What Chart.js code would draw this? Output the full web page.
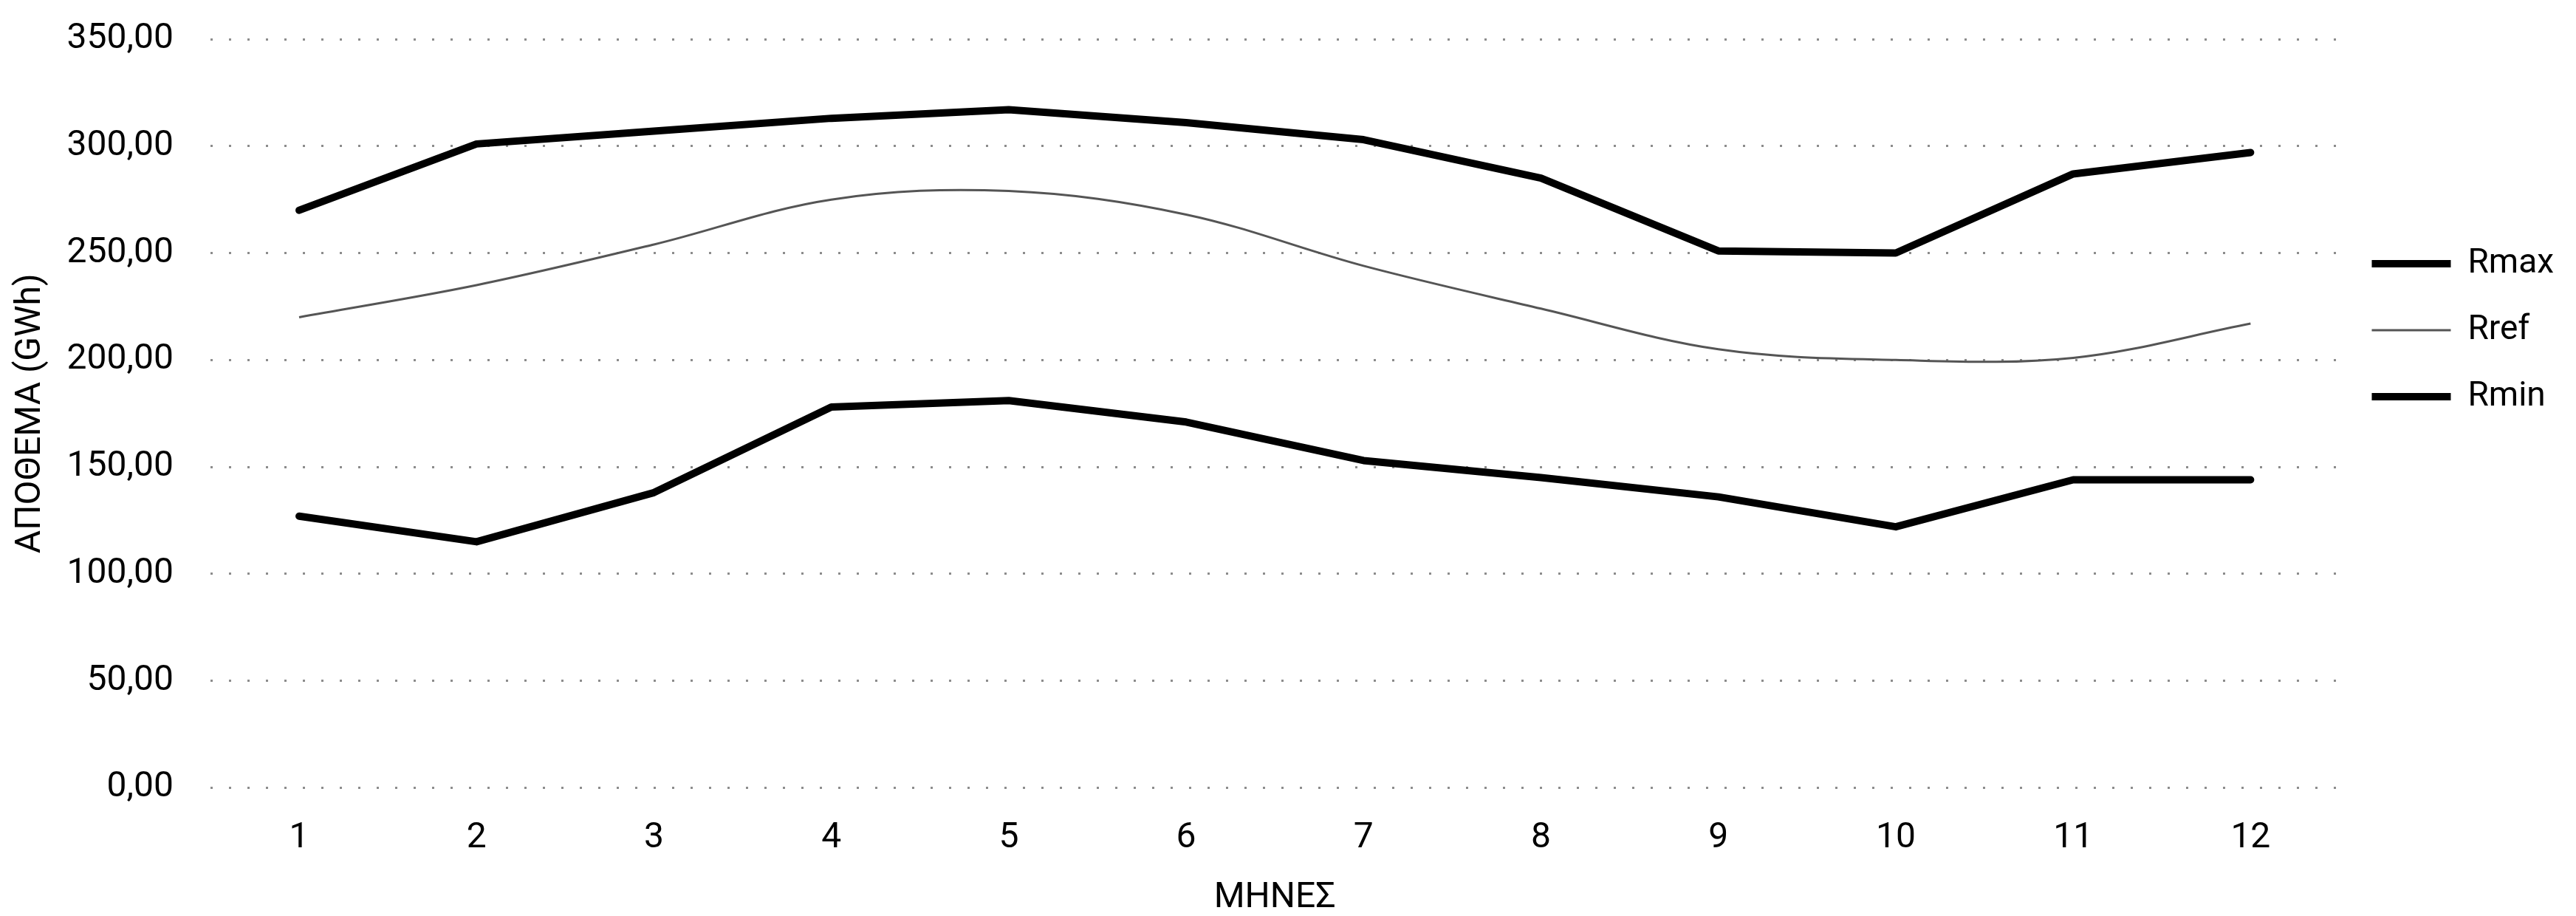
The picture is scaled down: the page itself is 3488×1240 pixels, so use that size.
<!DOCTYPE html>
<html>
<head>
<meta charset="utf-8">
<script src="https://cdn.jsdelivr.net/npm/chart.js@4.4.0/dist/chart.umd.min.js"></script>
<style>
    body { margin: 0; background: #fff; }
</style>
</head>
<body>
<canvas id="myChart" width="3488" height="1240"></canvas>
<script>
// meses
const meses = ['1', '2', '3', '4', '5', '6', '7', '8', '9', '10', '11', '12'];

// apothema (GWh)
const rmax = [270, 301, 307, 313, 317, 311, 303, 285, 251, 250, 287, 297];
const rref = [220, 235, 254, 275, 279, 268, 244, 224, 205, 200, 201, 217];
const rmin = [127, 115, 138, 178, 181, 171, 153, 145, 136, 122, 144, 144];

Chart.defaults.font.family = 'Roboto, "Noto Sans", sans-serif';
Chart.defaults.font.size = 48;
Chart.defaults.color = '#000';

const data = {
    labels: meses,
    datasets: [{
        label: 'Rmax',
        data: rmax,
        borderColor: '#000',
        backgroundColor: '#000',
        borderWidth: 10,
        borderJoinStyle: 'round',
        borderCapStyle: 'round',
        pointRadius: 0,
        pointStyle: 'line',
        tension: 0
    }, {
        label: 'Rref',
        data: rref,
        borderColor: '#555',
        backgroundColor: '#555',
        borderWidth: 3,
        pointRadius: 0,
        pointStyle: 'line',
        tension: 0.35
    }, {
        label: 'Rmin',
        data: rmin,
        borderColor: '#000',
        backgroundColor: '#000',
        borderWidth: 10,
        borderJoinStyle: 'round',
        borderCapStyle: 'round',
        pointRadius: 0,
        pointStyle: 'line',
        tension: 0
    }]
};

const config = {
    type: 'line',
    data: data,
    options: {
        responsive: false,
        animation: false,
        layout: { padding: { top: 53, right: 20 } },
        plugins: {
            legend: {
                position: 'right',
                align: 'start',
                title: { display: true, text: ' ', font: { size: 10 }, padding: { top: 225, bottom: 0 } },
                labels: {
                    usePointStyle: true,
                    pointStyleWidth: 107,
                    padding: 44,
                    font: { size: 46 }
                }
            },
            tooltip: { enabled: false }
        },
        scales: {
            x: {
                offset: true,
                grid: { display: false, drawTicks: false },
                border: { display: false },
                ticks: { padding: 40 },
                title: {
                    display: true,
                    text: 'ΜΗΝΕΣ',
                    font: { size: 48, lineHeight: 1 },
                    padding: { top: -12, bottom: 0 }
                }
            },
            y: {
                min: 0,
                max: 350,
                grid: {
                    color: 'rgba(0,0,0,0.45)',
                    lineWidth: 3,
                    tickLength: 42,
                    tickColor: 'rgba(0,0,0,0)'
                },
                border: { display: false, dash: [3, 22] },
                ticks: {
                    stepSize: 50,
                    padding: 8,
                    callback: function (v) {
                        return v.toFixed(2).replace('.', ',');
                    }
                },
                title: {
                    display: true,
                    text: 'ΑΠΟΘΕΜΑ (GWh)',
                    padding: { top: 13, bottom: 12 }
                }
            }
        }
    }
};

const myChart = new Chart(
    document.getElementById('myChart'),
    config
);
</script>
</body>
</html>
